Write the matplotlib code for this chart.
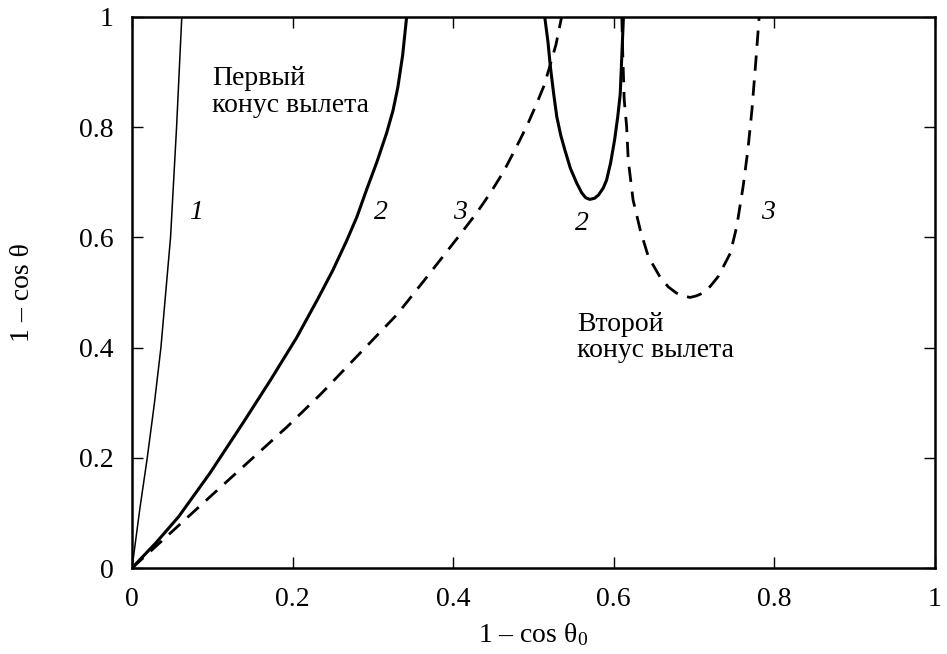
import numpy as np
import matplotlib
matplotlib.use('Agg')
import matplotlib.pyplot as plt

plt.rcParams['font.family'] = ['Liberation Serif', 'DejaVu Serif']
plt.rcParams['mathtext.fontset'] = 'custom'
plt.rcParams['mathtext.rm'] = 'Liberation Serif'
plt.rcParams['mathtext.it'] = 'Liberation Serif:italic'

# curve 1 (thin solid)
c1_x = [0, 0.010, 0.019, 0.028, 0.036, 0.042, 0.048, 0.0555, 0.062]
c1_y = [0, 0.11, 0.20, 0.30, 0.40, 0.50, 0.60, 0.80, 1.00]

# curve 2, first cone (thick solid)
c2a_x = [0, 0.030, 0.058, 0.097, 0.139, 0.172, 0.205, 0.232, 0.250, 0.267, 0.280,
         0.292, 0.305, 0.317, 0.325, 0.331, 0.337, 0.342]
c2a_y = [0, 0.046, 0.093, 0.172, 0.265, 0.340, 0.418, 0.490, 0.540, 0.593, 0.637,
         0.686, 0.737, 0.789, 0.830, 0.872, 0.930, 1.000]

# curve 2, second cone
c2b_x = [0.514, 0.518, 0.521, 0.525, 0.529, 0.534, 0.539, 0.546, 0.554, 0.560, 0.565,
         0.570, 0.576, 0.581, 0.587, 0.591, 0.596, 0.601, 0.605, 0.608, 0.610, 0.612]
c2b_y = [1.000, 0.955, 0.910, 0.862, 0.819, 0.785, 0.759, 0.725, 0.698, 0.681, 0.672,
         0.669, 0.671, 0.677, 0.690, 0.704, 0.735, 0.777, 0.820, 0.860, 0.930, 1.000]

# curve 3, first cone (dashed)
c3a_x = [0, 0.025, 0.097, 0.193, 0.236, 0.284, 0.330, 0.365, 0.408, 0.429, 0.446,
         0.463, 0.479, 0.492, 0.504, 0.513, 0.520, 0.528, 0.535]
c3a_y = [0, 0.033, 0.129, 0.256, 0.317, 0.390, 0.460, 0.524, 0.604, 0.644, 0.680,
         0.720, 0.765, 0.803, 0.843, 0.875, 0.909, 0.950, 1.000]

# curve 3, second cone
c3b_x = [0.610, 0.611, 0.613, 0.616, 0.618, 0.624, 0.633, 0.643, 0.658, 0.668, 0.678,
         0.686, 0.695, 0.703, 0.711, 0.720, 0.730, 0.745, 0.753, 0.761, 0.767, 0.772,
         0.777, 0.781]
c3b_y = [1.000, 0.940, 0.849, 0.801, 0.740, 0.668, 0.613, 0.565, 0.527, 0.510, 0.499,
         0.494, 0.491, 0.494, 0.499, 0.511, 0.529, 0.571, 0.619, 0.692, 0.759, 0.831,
         0.922, 1.000]

ticks = [0, 0.2, 0.4, 0.6, 0.8, 1]
tick_labels = ['0', '0.2', '0.4', '0.6', '0.8', '1']

fig = plt.figure(figsize=(9.47, 6.54), dpi=100)
ax = fig.add_axes([132 / 947, 86 / 654, 803 / 947, 551 / 654])

ax.plot(c1_x, c1_y, color='black', lw=1.1)
ax.plot(c2a_x, c2a_y, color='black', lw=2.2)
ax.plot(c2b_x, c2b_y, color='black', lw=2.2)
ax.plot(c3a_x, c3a_y, color='black', lw=2.0, dashes=(5.5, 3.5))
ax.plot(c3b_x, c3b_y, color='black', lw=2.0, dashes=(5.5, 3.5))

ax.set_xlim(0, 1)
ax.set_ylim(0, 1)
ax.set_xticks(ticks)
ax.set_xticklabels(tick_labels)
ax.set_yticks(ticks)
ax.set_yticklabels(tick_labels)
ax.tick_params(direction='in', length=8, width=1.0, top=True, right=True,
               labelsize=20)
ax.tick_params(axis='y', pad=13)
ax.tick_params(axis='x', pad=14)
for s in ax.spines.values():
    s.set_linewidth(1.8)

ax.set_xlabel('1 – cos θ$_0$', fontsize=20, labelpad=6)
ax.set_ylabel('1 – cos θ', fontsize=20, labelpad=32)

ax.text(0.0996, 0.911, 'Первый\nконус вылета', fontsize=20, va='top', ha='left',
        linespacing=1.08)
ax.text(0.554, 0.465, 'Второй\nконус вылета', fontsize=20, va='top', ha='left',
        linespacing=1.08)

lab_kw = dict(fontsize=20, style='italic', ha='center', va='center')
ax.text(0.080, 0.645, '1', **lab_kw)
ax.text(0.310, 0.645, '2', **lab_kw)
ax.text(0.408, 0.645, '3', **lab_kw)
ax.text(0.560, 0.625, '2', **lab_kw)
ax.text(0.792, 0.645, '3', **lab_kw)

fig.savefig('out.png', dpi=100)
